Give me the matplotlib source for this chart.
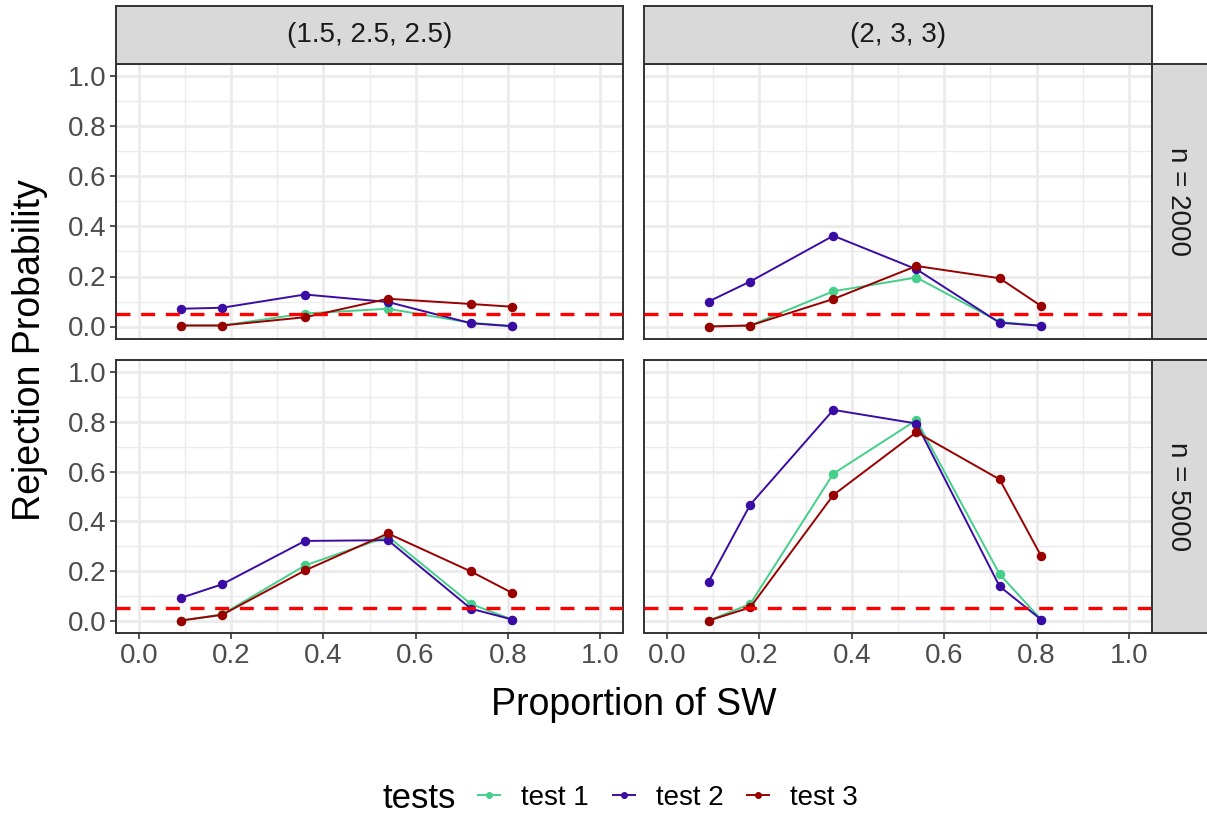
import numpy as np
import matplotlib
matplotlib.use("Agg")
import matplotlib.pyplot as plt
from matplotlib.lines import Line2D

plt.rcParams['font.family'] = ['Liberation Sans', 'DejaVu Sans']

# -------------------------
# Datos
# -------------------------
prop_sw = [0.09, 0.18, 0.36, 0.54, 0.72, 0.81]

col_labels = ["(1.5, 2.5, 2.5)", "(2, 3, 3)"]
row_labels = ["n = 2000", "n = 5000"]
test_names = ["test 1", "test 2", "test 3"]
test_colors = ["#44CF8A", "#3A0CA3", "#990000"]

# n = 2000, (1.5, 2.5, 2.5)
t1_2000_a = [0.004, 0.004, 0.052, 0.071, 0.015, 0.002]
t2_2000_a = [0.071, 0.075, 0.128, 0.098, 0.013, 0.001]
t3_2000_a = [0.004, 0.004, 0.037, 0.111, 0.090, 0.079]
# n = 2000, (2, 3, 3)
t1_2000_b = [0.000, 0.004, 0.141, 0.196, 0.018, 0.003]
t2_2000_b = [0.100, 0.180, 0.363, 0.229, 0.015, 0.003]
t3_2000_b = [0.000, 0.004, 0.110, 0.242, 0.193, 0.082]
# n = 5000, (1.5, 2.5, 2.5)
t1_5000_a = [0.000, 0.025, 0.222, 0.339, 0.067, 0.004]
t2_5000_a = [0.091, 0.146, 0.321, 0.324, 0.048, 0.004]
t3_5000_a = [0.000, 0.023, 0.202, 0.351, 0.198, 0.111]
# n = 5000, (2, 3, 3)
t1_5000_b = [0.000, 0.067, 0.592, 0.808, 0.187, 0.004]
t2_5000_b = [0.157, 0.467, 0.849, 0.794, 0.138, 0.004]
t3_5000_b = [0.000, 0.053, 0.506, 0.759, 0.569, 0.260]

panel_data = [
    [[t1_2000_a, t2_2000_a, t3_2000_a], [t1_2000_b, t2_2000_b, t3_2000_b]],
    [[t1_5000_a, t2_5000_a, t3_5000_a], [t1_5000_b, t2_5000_b, t3_5000_b]],
]

alpha_level = 0.05

# -------------------------
# Layout (píxeles -> fracción de figura)
# -------------------------
W, H = 1207, 818
DARK = "#333333"
GRID = "#EBEBEB"


def box(x0, y0, x1, y1):
    return [x0 / W, 1 - y1 / H, (x1 - x0) / W, (y1 - y0) / H]


col_x = [(116, 623), (644, 1152)]
row_y = [(64, 339), (360, 633)]

fig = plt.figure(figsize=(W / 100, H / 100), dpi=100)

major = np.arange(0, 1.01, 0.2)
minor = np.arange(0.1, 1.0, 0.2)

for r in range(2):
    for c in range(2):
        ax = fig.add_axes(box(col_x[c][0], row_y[r][0], col_x[c][1], row_y[r][1]))
        ax.set_xlim(-0.05, 1.05)
        ax.set_ylim(-0.05, 1.05)
        ax.set_xticks(major)
        ax.set_yticks(major)
        ax.set_xticks(minor, minor=True)
        ax.set_yticks(minor, minor=True)
        ax.grid(which="major", color=GRID, lw=2.0, zorder=0)
        ax.grid(which="minor", color=GRID, lw=1.0, zorder=0)
        ax.set_axisbelow(True)
        ax.tick_params(which="minor", length=0)
        ax.tick_params(which="major", length=4, width=1.2, color=DARK,
                       labelsize=20, labelcolor="#4D4D4D", pad=3)
        for s in ax.spines.values():
            s.set_color(DARK)
            s.set_linewidth(1.4)

        for k in range(3):
            ax.plot(prop_sw, panel_data[r][c][k], color=test_colors[k], lw=1.4,
                    marker="o", ms=5.8, zorder=3)
        ax.axhline(alpha_level, color="#FF0000", lw=2.4, ls=(0, (4.2, 3.2)), zorder=4)

        if c == 0:
            ax.set_yticklabels([f"{v:.1f}" for v in major])
        else:
            ax.tick_params(axis="y", labelleft=False, length=0)
        if r == 1:
            ax.set_xticklabels([f"{v:.1f}" for v in major])
        else:
            ax.tick_params(axis="x", labelbottom=False, length=0)

# Tiras de facetas
for c in range(2):
    sax = fig.add_axes(box(col_x[c][0], 6, col_x[c][1], 64))
    sax.set_facecolor("#D9D9D9")
    sax.set_xticks([])
    sax.set_yticks([])
    for s in sax.spines.values():
        s.set_color(DARK)
        s.set_linewidth(1.4)
    sax.text(0.5, 0.5, col_labels[c], ha="center", va="center", fontsize=20,
             color="#1A1A1A", transform=sax.transAxes)

for r in range(2):
    sax = fig.add_axes(box(1152, row_y[r][0], 1212, row_y[r][1]))
    sax.set_facecolor("#D9D9D9")
    sax.set_xticks([])
    sax.set_yticks([])
    for s in sax.spines.values():
        s.set_color(DARK)
        s.set_linewidth(1.4)
    sax.text(0.44, 0.5, row_labels[r], ha="center", va="center", fontsize=20,
             color="#1A1A1A", rotation=-90, transform=sax.transAxes)

# Títulos de ejes
fig.text(30 / W, 1 - 350 / H, "Rejection Probability", rotation=90,
         ha="center", va="center", fontsize=27)
fig.text(634 / W, 1 - 705 / H, "Proportion of SW", ha="center", va="center",
         fontsize=27)

# Leyenda
fig.text(382 / W, 1 - 798 / H, "tests", ha="left", va="center", fontsize=25)
handles = [Line2D([0], [0], color=col, lw=1.4, marker="o", ms=4)
           for col in test_colors]
fig.legend(handles, test_names, loc="center", bbox_to_anchor=(668 / W, 1 - 798 / H),
           ncol=3, frameon=False, fontsize=20, handlelength=0.8,
           handletextpad=0.75, columnspacing=0.85)

fig.savefig("out.png", dpi=100)
